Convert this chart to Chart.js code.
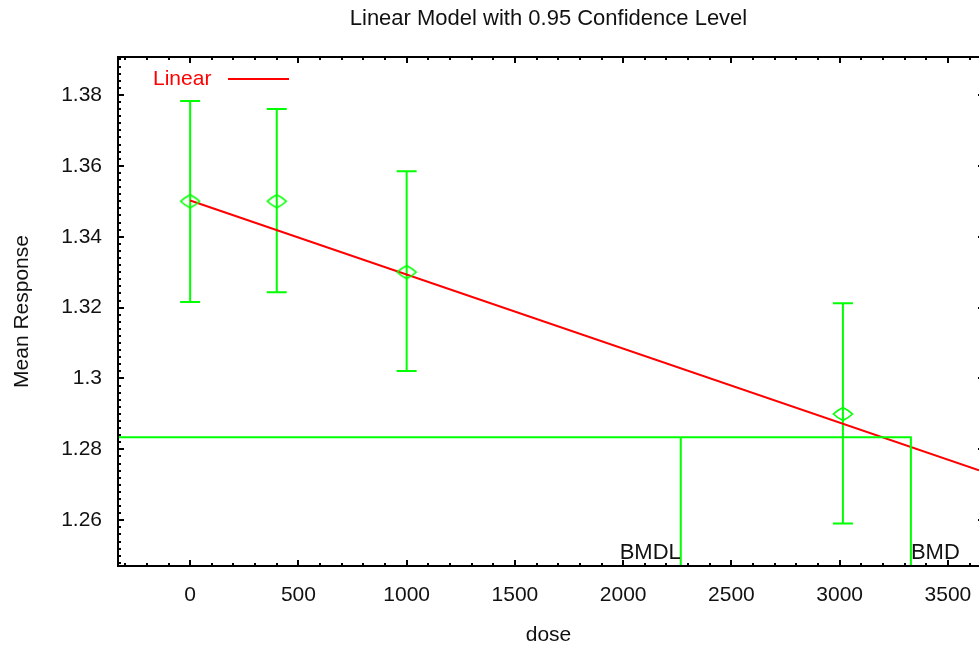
<!DOCTYPE html>
<html>
<head>
<meta charset="utf-8">
<script src="https://cdn.jsdelivr.net/npm/chart.js@4.4.0/dist/chart.umd.min.js"></script>
<style>
html, body { margin: 0; padding: 0; background: #fff; overflow: hidden; }
canvas { display: block; }
</style>
</head>
<body>
<canvas id="grafica" width="979" height="649"></canvas>
<script>
// Datos (dosis vs respuesta media)
const dosis = [0, 400, 1000, 3015];
const mediaRespuesta = [1.35, 1.35, 1.33, 1.29];
const limiteInferior = [1.3216, 1.3243, 1.3021, 1.2591];
const limiteSuperior = [1.3783, 1.3760, 1.3585, 1.3212];

// Recta del modelo lineal
const ajusteDosis = [0, 3643.6];
const ajusteRespuesta = [1.3502, 1.2741];

// Nivel BMR, BMD y BMDL
const nivelBMR = 1.2834;
const valorBMD = 3329;
const valorBMDL = 2266;

// Ejes (el borde derecho del original queda cortado)
const ticksX = [0, 500, 1000, 1500, 2000, 2500, 3000, 3500];
const ticksY = [1.26, 1.28, 1.3, 1.32, 1.34, 1.36, 1.38];
const etiquetasY = ['1.26', '1.28', '1.3', '1.32', '1.34', '1.36', '1.38'];
const rangoX = [-333.3, 3643.6];
const rangoY = [1.2471, 1.3907];

const VERDE = '#00ff00';
const ROJO = '#ff0000';
const FUENTE = '"Liberation Sans", Arial, sans-serif';

Chart.defaults.font.family = FUENTE;
Chart.defaults.color = '#111';

// Marcador en forma de rombo redondeado (más ancho que alto)
function crearRombo() {
    const c = document.createElement('canvas');
    c.width = 22; c.height = 16;
    const g = c.getContext('2d');
    g.strokeStyle = VERDE;
    g.lineWidth = 1.6;
    g.beginPath();
    g.moveTo(11, 1.5);
    g.quadraticCurveTo(17, 4.5, 20.5, 8);
    g.quadraticCurveTo(17, 11.5, 11, 14.5);
    g.quadraticCurveTo(5, 11.5, 1.5, 8);
    g.quadraticCurveTo(5, 4.5, 11, 1.5);
    g.closePath();
    g.stroke();
    return c;
}

// Barras de error (intervalo de confianza)
const barrasError = {
    id: 'barrasError',
    beforeDatasetsDraw(chart) {
        const { ctx, chartArea: a, scales: { x, y } } = chart;
        ctx.save();
        ctx.beginPath();
        ctx.rect(a.left, a.top, a.right - a.left, a.bottom - a.top);
        ctx.clip();
        ctx.strokeStyle = VERDE;
        ctx.lineWidth = 2;
        for (let i = 0; i < dosis.length; i++) {
            const px = x.getPixelForValue(dosis[i]);
            const yLo = y.getPixelForValue(limiteInferior[i]);
            const yHi = y.getPixelForValue(limiteSuperior[i]);
            ctx.beginPath();
            ctx.moveTo(px, yLo); ctx.lineTo(px, yHi);
            ctx.moveTo(px - 10, yLo); ctx.lineTo(px + 10, yLo);
            ctx.moveTo(px - 10, yHi); ctx.lineTo(px + 10, yHi);
            ctx.stroke();
        }
        ctx.restore();
    }
};

// Marco con marcas hacia dentro, leyenda y rótulos BMD/BMDL
const marco = {
    id: 'marco',
    afterDatasetsDraw(chart) {
        const { ctx, chartArea: a, scales: { x, y } } = chart;
        ctx.save();
        ctx.strokeStyle = '#000';
        ctx.lineWidth = 2;
        // sin lado derecho: en el original cae fuera de la imagen
        ctx.beginPath();
        ctx.moveTo(a.right + 5, a.top);
        ctx.lineTo(a.left, a.top);
        ctx.lineTo(a.left, a.bottom);
        ctx.lineTo(a.right + 5, a.bottom);
        ctx.stroke();

        ctx.beginPath();
        const i0 = Math.ceil(x.min / 100), i1 = Math.floor(x.max / 100);
        for (let i = i0; i <= i1; i++) {
            const px = Math.round(x.getPixelForValue(i * 100));
            const l = (i % 5 === 0) ? 6 : 3;
            ctx.moveTo(px, a.bottom); ctx.lineTo(px, a.bottom - l);
            ctx.moveTo(px, a.top); ctx.lineTo(px, a.top + l);
        }
        const j0 = Math.ceil(y.min / 0.002 - 1e-6), j1 = Math.floor(y.max / 0.002 + 1e-6);
        for (let j = j0; j <= j1; j++) {
            const py = Math.round(y.getPixelForValue(j * 0.002));
            const l = (j % 10 === 0) ? 6 : 3;
            ctx.moveTo(a.left, py); ctx.lineTo(a.left + l, py);
            // marcas del eje derecho (borde a ~5 px fuera del lienzo)
            if (j % 10 === 0) { ctx.moveTo(a.right + 5, py); ctx.lineTo(a.right - 1, py); }
        }
        ctx.stroke();

        // leyenda
        ctx.font = '21px ' + FUENTE;
        ctx.fillStyle = ROJO;
        ctx.textBaseline = 'middle';
        ctx.textAlign = 'left';
        ctx.fillText('Linear', a.left + 35, a.top + 22);
        ctx.strokeStyle = ROJO;
        ctx.lineWidth = 2;
        ctx.beginPath();
        ctx.moveTo(a.left + 110, a.top + 22);
        ctx.lineTo(a.left + 171, a.top + 22);
        ctx.stroke();

        // rótulos
        ctx.font = '22px ' + FUENTE;
        ctx.fillStyle = '#111';
        ctx.textBaseline = 'alphabetic';
        ctx.textAlign = 'right';
        ctx.fillText('BMDL', x.getPixelForValue(valorBMDL), a.bottom - 7);
        ctx.textAlign = 'left';
        ctx.fillText('BMD', x.getPixelForValue(valorBMD), a.bottom - 7);
        ctx.restore();
    }
};

const puntos = dosis.map((d, i) => ({ x: d, y: mediaRespuesta[i] }));
const recta = ajusteDosis.map((d, i) => ({ x: d, y: ajusteRespuesta[i] }));

new Chart(document.getElementById('grafica'), {
    type: 'scatter',
    data: {
        datasets: [
            {
                label: 'BMD',
                data: [
                    { x: rangoX[0], y: nivelBMR },
                    { x: valorBMD, y: nivelBMR },
                    { x: valorBMD, y: rangoY[0] }
                ],
                showLine: true,
                borderColor: VERDE,
                borderWidth: 2,
                pointRadius: 0
            },
            {
                label: 'BMDL',
                data: [
                    { x: valorBMDL, y: nivelBMR },
                    { x: valorBMDL, y: rangoY[0] }
                ],
                showLine: true,
                borderColor: VERDE,
                borderWidth: 2,
                pointRadius: 0
            },
            {
                label: 'Media',
                data: puntos,
                showLine: false,
                pointStyle: crearRombo(),
                pointRadius: 8
            },
            {
                label: 'Linear',
                data: recta,
                showLine: true,
                borderColor: ROJO,
                borderWidth: 2,
                pointRadius: 0
            }
        ]
    },
    options: {
        responsive: false,
        animation: false,
        devicePixelRatio: 1,
        layout: { padding: 0, autoPadding: false },
        plugins: {
            legend: { display: false },
            tooltip: { enabled: false },
            title: {
                display: true,
                fullSize: false,
                text: 'Linear Model with 0.95 Confidence Level',
                color: '#111',
                font: { size: 22, weight: 'normal' },
                padding: { top: 6, bottom: 24.6 }
            }
        },
        scales: {
            x: {
                type: 'linear',
                min: rangoX[0],
                max: rangoX[1],
                grid: { display: false, drawTicks: false },
                border: { display: false },
                afterBuildTicks: (s) => { s.ticks = ticksX.map(v => ({ value: v })); },
                afterFit: (s) => { s.height = 83; s.paddingRight = 0; },
                ticks: {
                    autoSkip: false,
                    maxRotation: 0,
                    padding: 17,
                    font: { size: 21 },
                    callback: (v) => String(v)
                },
                title: {
                    display: true,
                    text: 'dose',
                    font: { size: 21 },
                    padding: { top: 0, bottom: 1 }
                }
            },
            y: {
                type: 'linear',
                min: rangoY[0],
                max: rangoY[1],
                grid: { display: false, drawTicks: false },
                border: { display: false },
                afterBuildTicks: (s) => { s.ticks = ticksY.map(v => ({ value: v })); },
                afterFit: (s) => { s.width = 118; },
                ticks: {
                    autoSkip: false,
                    padding: 16,
                    font: { size: 21 },
                    callback: (v) => etiquetasY[ticksY.indexOf(v)]
                },
                title: {
                    display: true,
                    text: 'Mean Response',
                    font: { size: 21 },
                    padding: { top: 10, bottom: 0 }
                }
            }
        }
    },
    plugins: [barrasError, marco]
});
</script>
</body>
</html>
